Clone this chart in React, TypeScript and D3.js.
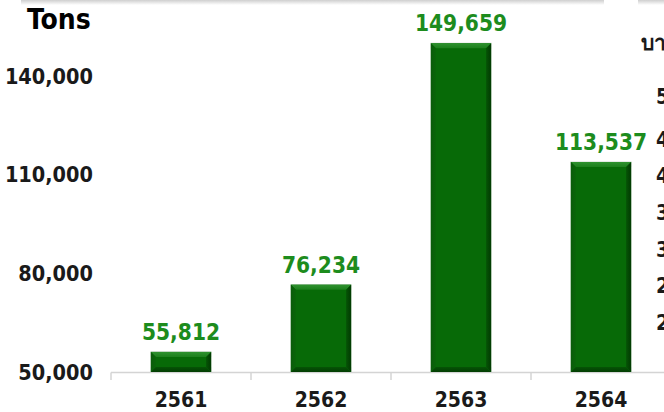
import React from "react";
import * as d3 from "d3";

const categories = ["2561", "2562", "2563", "2564"];
const tons = [55812, 76234, 149659, 113537];
const yTicks = [50000, 80000, 110000, 140000];
const unitLabel = "Tons";
const sideTitle = "บา";
const sideTickLabels = ["5", "4", "4", "3", "3", "2", "2"];
const sideTickBaselines = [104, 147, 183, 220, 257, 293, 330];

const W = 664;
const H = 412;
const FONT = "'DejaVu Sans Condensed', 'DejaVu Sans', sans-serif";

export default function App() {
  const x = d3
    .scaleBand<string>()
    .domain(categories)
    .range([111, 671])
    .paddingInner(0.57)
    .paddingOuter(0.285);
  const y = d3.scaleLinear().domain([50000, 140000]).range([371, 75]);
  const fmt = d3.format(",");
  const step = x.step();
  const boundaries = d3.range(categories.length + 1).map((i) => 111 + i * step);

  return (
    <svg
      width={W}
      height={H}
      viewBox={`0 0 ${W} ${H}`}
      style={{ position: "absolute", left: 0, top: 0, background: "#fff" }}
    >
      <defs>
        <linearGradient id="topShadow" x1="0" y1="0" x2="0" y2="1">
          <stop offset="0" stopColor="#cfcfcf" />
          <stop offset="1" stopColor="#ffffff" />
        </linearGradient>
        <linearGradient id="bevelTop" x1="0" y1="0" x2="0" y2="1">
          <stop offset="0" stopColor="#2f922f" />
          <stop offset="1" stopColor="#1c7f1c" />
        </linearGradient>
        <linearGradient id="bevelLeft" x1="0" y1="0" x2="1" y2="0">
          <stop offset="0" stopColor="#0a5c0a" />
          <stop offset="1" stopColor="#086508" />
        </linearGradient>
        <linearGradient id="bevelRight" x1="0" y1="0" x2="1" y2="0">
          <stop offset="0" stopColor="#055405" />
          <stop offset="1" stopColor="#023a02" />
        </linearGradient>
        <linearGradient id="bevelBottom" x1="0" y1="0" x2="0" y2="1">
          <stop offset="0" stopColor="#055405" />
          <stop offset="1" stopColor="#033d03" />
        </linearGradient>
      </defs>

      {/* faint top shadows of surrounding boxes */}
      <rect x={21} y={0} width={583} height={5} fill="url(#topShadow)" />
      <rect x={638} y={0} width={30} height={5} fill="url(#topShadow)" />

      {/* unit title */}
      <text x={27} y={29} fontFamily={FONT} fontWeight="bold" fontSize={28} fill="#000">
        {unitLabel}
      </text>

      {/* y tick labels */}
      {yTicks.map((t) => (
        <text
          key={t}
          x={93}
          y={y(t) + 8.5}
          textAnchor="end"
          fontFamily={FONT}
          fontWeight="bold"
          fontSize={21.5}
          fill="#1a1a1a"
        >
          {fmt(t)}
        </text>
      ))}

      {/* axis line and ticks */}
      <line x1={111} x2={W} y1={372.5} y2={372.5} stroke="#d4d4d4" strokeWidth={1.5} />
      {boundaries.map((bx, i) => (
        <line key={i} x1={bx} x2={bx} y1={372.5} y2={380} stroke="#d4d4d4" strokeWidth={1.5} />
      ))}

      {/* bars */}
      {categories.map((c, i) => {
        const bx = x(c) as number;
        const bw = x.bandwidth();
        const by = y(tons[i]);
        const bh = 372 - by;
        const b = Math.min(5, bh / 2.5);
        const r = bx + bw;
        const bot = by + bh;
        return (
          <g key={c}>
            <rect x={bx - 0.5} y={by - 0.5} width={bw + 1} height={bh + 0.5} fill="#c9d6c9" />
            <rect x={bx} y={by} width={bw} height={bh} fill="#076a07" />
            <polygon
              points={`${bx},${by} ${r},${by} ${r - b},${by + b} ${bx + b},${by + b}`}
              fill="url(#bevelTop)"
            />
            <polygon
              points={`${bx},${by} ${bx + b},${by + b} ${bx + b},${bot - b} ${bx},${bot}`}
              fill="url(#bevelLeft)"
            />
            <polygon
              points={`${r},${by} ${r},${bot} ${r - b},${bot - b} ${r - b},${by + b}`}
              fill="url(#bevelRight)"
            />
            <polygon
              points={`${bx},${bot} ${bx + b},${bot - b} ${r - b},${bot - b} ${r},${bot}`}
              fill="url(#bevelBottom)"
            />
            <text
              x={bx + bw / 2}
              y={by - 12}
              textAnchor="middle"
              fontFamily={FONT}
              fontWeight="bold"
              fontSize={22.5}
              fill="#1d8c1d"
            >
              {fmt(tons[i])}
            </text>
            <text
              x={bx + bw / 2}
              y={407}
              textAnchor="middle"
              fontFamily={FONT}
              fontWeight="bold"
              fontSize={21}
              fill="#1a1a1a"
            >
              {c}
            </text>
          </g>
        );
      })}

      {/* clipped neighbouring chart on the right */}
      <text x={641} y={50} fontFamily={FONT} fontWeight="bold" fontSize={21} fill="#1a1a1a">
        {sideTitle}
      </text>
      {sideTickLabels.map((s, i) => (
        <text
          key={i}
          x={656}
          y={sideTickBaselines[i]}
          fontFamily={FONT}
          fontWeight="bold"
          fontSize={21}
          fill="#1a1a1a"
        >
          {s}
        </text>
      ))}
    </svg>
  );
}
